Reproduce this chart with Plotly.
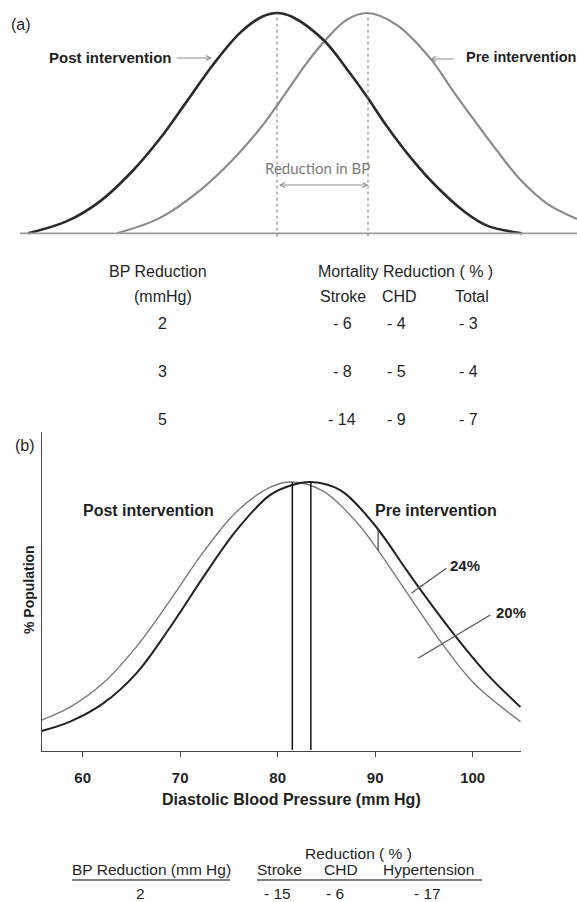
import plotly.graph_objects as go

W, H = 577, 902


def px(x):
    return x / W


def py(y):
    return 1 - y / H


# ---------------- Panel (a): schematic distributions (relative BP scale, % of peak height)
a_post_x = [28, 67, 100, 133, 160, 187, 213, 240, 262, 277, 292, 324, 347, 367, 387, 414, 437, 464, 487, 522]
a_post_y = [0, 5.5, 14.5, 28.5, 43, 60, 76.5, 91, 98.3, 100, 98.3, 87.5, 74.5, 62, 48.5, 32.5, 21, 10, 3.5, 0]
a_pre_x = [117, 160, 200, 233, 260, 277, 290, 307, 324, 347, 368, 397, 430, 454, 474, 497, 520, 547, 577]
a_pre_y = [0, 7, 19.5, 33.5, 47.5, 58, 66.5, 77.5, 87, 97, 100, 94.5, 79.5, 64, 51.5, 37.5, 24.5, 13.5, 6.5]
a_post_mean = 277
a_pre_mean = 368

# Table (a)
a_bp_reduction = ["2", "3", "5"]
a_stroke = ["- 6", "- 8", "- 14"]
a_chd = ["- 4", "- 5", "- 9"]
a_total = ["- 3", "- 4", "- 7"]

# ---------------- Panel (b): diastolic BP distributions
b_post_x = [55.8, 58.7, 62.1, 65.5, 69.0, 72.4, 75.8, 79.2, 81.5, 84.7, 88.1, 90.3, 93.2, 96.7, 100.1, 104.9]
b_post_y = [11.2, 16.0, 25.0, 38.5, 56.0, 74.0, 89.0, 98.0, 100, 96.5, 85.0, 74.5, 59.0, 40.5, 25.0, 10.6]
b_pre_x = [55.8, 58.7, 62.1, 65.5, 69.0, 72.4, 75.8, 79.2, 81.5, 83.4, 86.4, 89.8, 93.2, 94.6, 98.0, 101.4, 104.9]
b_pre_y = [7.1, 10.6, 17.4, 28.6, 46.0, 64.7, 82.1, 95.1, 98.9, 100, 97.0, 84.6, 67.2, 60.0, 43.5, 28.6, 16.0]
b_post_mean = 81.5
b_pre_mean = 83.4
b_threshold = 90.3
b_thr_post = 74.5
b_thr_pre = 82.0
b_ticks = [60, 70, 80, 90, 100]
b_labels = ["24%", "20%"]
b_label_x = [99.2, 103.9]
b_label_y = [69.0, 51.2]
b_leader_x0 = [93.7, 94.4]
b_leader_y0 = [58.5, 34.2]
b_leader_x1 = [97.3, 101.8]
b_leader_y1 = [67.8, 50.4]

# Table (b)
b_bp_reduction = ["2"]
b_stroke = ["- 15"]
b_chd = ["- 6"]
b_hyper = ["- 17"]

FONT = "Arial, Liberation Sans, sans-serif"
DARK = "#1f1f1f"

fig = go.Figure()

# Panel (a) curves
fig.add_trace(go.Scatter(x=a_pre_x, y=a_pre_y, mode="lines", xaxis="x", yaxis="y",
                         line=dict(color="#8a8a8a", width=2.2, shape="spline", smoothing=1.0),
                         hoverinfo="skip"))
fig.add_trace(go.Scatter(x=a_post_x, y=a_post_y, mode="lines", xaxis="x", yaxis="y",
                         line=dict(color="#2a2a2a", width=2.6, shape="spline", smoothing=1.0),
                         hoverinfo="skip"))

# Panel (b) curves
fig.add_trace(go.Scatter(x=b_post_x, y=b_post_y, mode="lines", xaxis="x2", yaxis="y2",
                         line=dict(color="#7a7a7a", width=1.4, shape="spline", smoothing=1.0),
                         hoverinfo="skip"))
fig.add_trace(go.Scatter(x=b_pre_x, y=b_pre_y, mode="lines", xaxis="x2", yaxis="y2",
                         line=dict(color="#222222", width=2.0, shape="spline", smoothing=1.0),
                         hoverinfo="skip"))

shapes = []
# (a) baseline and dotted mean lines
shapes.append(dict(type="line", xref="x", yref="y", x0=20, x1=577, y0=0, y1=0,
                   line=dict(color="#9a9a9a", width=1.8)))
for m in (a_post_mean, a_pre_mean):
    shapes.append(dict(type="line", xref="x", yref="y", x0=m, x1=m, y0=-1.5, y1=100,
                       line=dict(color="#7a7a7a", width=1, dash="dot")))
# (b) mean lines
for m in (b_post_mean, b_pre_mean):
    shapes.append(dict(type="line", xref="x2", yref="y2", x0=m, x1=m, y0=0, y1=100,
                       line=dict(color="#111111", width=1.5)))
# (b) threshold connector
shapes.append(dict(type="line", xref="x2", yref="y2", x0=b_threshold, x1=b_threshold,
                   y0=b_thr_post, y1=b_thr_pre, line=dict(color="#444444", width=1.2)))
# (b) leader lines
for i in range(len(b_labels)):
    shapes.append(dict(type="line", xref="x2", yref="y2", x0=b_leader_x0[i], x1=b_leader_x1[i],
                       y0=b_leader_y0[i], y1=b_leader_y1[i], line=dict(color="#555555", width=1.2)))
# table (b) underlines
shapes.append(dict(type="line", xref="paper", yref="paper", x0=px(72), x1=px(230), y0=py(880), y1=py(880),
                   line=dict(color="#555555", width=1.4)))
shapes.append(dict(type="line", xref="paper", yref="paper", x0=px(257), x1=px(482), y0=py(880), y1=py(880),
                   line=dict(color="#555555", width=1.4)))

ann = []


def text(x, y, s, size=15, bold=False, color=DARK, anchor="center", family=FONT, angle=0):
    ann.append(dict(x=px(x), y=py(y), xref="paper", yref="paper", text=("<b>%s</b>" % s) if bold else s,
                    showarrow=False, xanchor=anchor, yanchor="middle", textangle=angle,
                    font=dict(family=family, size=size, color=color)))


# Panel (a) labels
text(9, 24, "(a)", size=16, anchor="left")
text(47, 57, "Post intervention", size=15, bold=True, anchor="left")
text(464, 57, "Pre intervention", size=14.5, bold=True, anchor="left")
ann.append(dict(x=px(212), y=py(58), xref="paper", yref="paper", ax=-37, ay=0, text="",
                showarrow=True, arrowhead=5, arrowsize=1.0, arrowwidth=1, arrowcolor="#8a8a8a"))
ann.append(dict(x=px(430), y=py(59), xref="paper", yref="paper", ax=25, ay=0, text="",
                showarrow=True, arrowhead=5, arrowsize=1.0, arrowwidth=1, arrowcolor="#8a8a8a"))
text(317, 168, "Reduction in BP", size=15, color="#7a7a7a", family="Lato, Open Sans, sans-serif")
ann.append(dict(x=px(a_pre_mean + 0.5), y=py(185), xref="paper", yref="paper", ax=-(a_pre_mean - a_post_mean), ay=0,
                text="", showarrow=True, arrowhead=5, startarrowhead=5, arrowside="end+start",
                arrowsize=1.0, startarrowsize=1.0, arrowwidth=1, arrowcolor="#8a8a8a"))

# Table (a)
TA = 16
text(158, 272, "BP Reduction", size=TA)
text(163, 296, "(mmHg)", size=TA)
text(405, 272, "Mortality Reduction ( % )", size=TA)
text(343, 296, "Stroke", size=TA)
text(399, 296, "CHD", size=TA)
text(472, 296, "Total", size=TA)
row_y = [323, 372, 420]
for i in range(3):
    text(162, row_y[i], a_bp_reduction[i], size=TA)
    text(342, row_y[i], a_stroke[i], size=TA)
    text(396, row_y[i], a_chd[i], size=TA)
    text(468, row_y[i], a_total[i], size=TA)

# Panel (b) labels
text(13, 445, "(b)", size=16, anchor="left")
text(148, 510, "Post intervention", size=16, bold=True)
text(436, 510, "Pre intervention", size=16, bold=True)
text(29, 590, "% Population", size=14, bold=True, angle=-90)
text(292, 799, "Diastolic Blood Pressure (mm Hg)", size=16, bold=True)
for i in range(len(b_labels)):
    ann.append(dict(x=b_label_x[i], y=b_label_y[i], xref="x2", yref="y2", text="<b>%s</b>" % b_labels[i],
                    showarrow=False, xanchor="center", yanchor="middle",
                    font=dict(family=FONT, size=15, color=DARK)))

# Table (b)
TB = 15.5
text(358, 853, "Reduction ( % )", size=TB)
text(151, 869, "BP Reduction (mm Hg)", size=TB)
text(279, 869, "Stroke", size=TB)
text(341, 869, "CHD", size=TB)
text(428, 869, "Hypertension", size=TB)
text(140, 893, b_bp_reduction[0], size=TB)
text(277, 893, b_stroke[0], size=TB)
text(335, 893, b_chd[0], size=TB)
text(427, 893, b_hyper[0], size=TB)

# axis geometry
ya_units = 100 / (233.3 - 13)
fig.update_layout(
    width=W, height=H, margin=dict(l=0, r=0, t=0, b=0),
    paper_bgcolor="white", plot_bgcolor="white", showlegend=False,
    xaxis=dict(domain=[0, 1], range=[0, W], visible=False, fixedrange=True),
    yaxis=dict(domain=[py(240), py(6)], range=[-(240 - 233.3) * ya_units, 100 + (13 - 6) * ya_units],
               visible=False, anchor="x"),
    xaxis2=dict(domain=[px(42), px(521)], range=[60 + (42 - 82.7) / 9.75, 60 + (521 - 82.7) / 9.75],
                anchor="y2", showline=True, linecolor="#444444", linewidth=1, showgrid=False, zeroline=False,
                ticks="outside", ticklen=5, tickcolor="#444444", tickwidth=1,
                tickvals=b_ticks, ticktext=["<b>%d</b>" % t for t in b_ticks],
                tickfont=dict(family=FONT, size=15, color=DARK), ticklabelstandoff=8),
    yaxis2=dict(domain=[py(751), py(432)], range=[(750 - 751) / 2.68, (750 - 432) / 2.68],
                anchor="x2", showline=True, linecolor="#444444", linewidth=1, showgrid=False, zeroline=False,
                showticklabels=False, ticks=""),
    shapes=shapes, annotations=ann,
)

fig.write_html("out.html", config={"displayModeBar": False},
               post_script="document.body.style.margin='0px';document.body.style.overflow='hidden';")
